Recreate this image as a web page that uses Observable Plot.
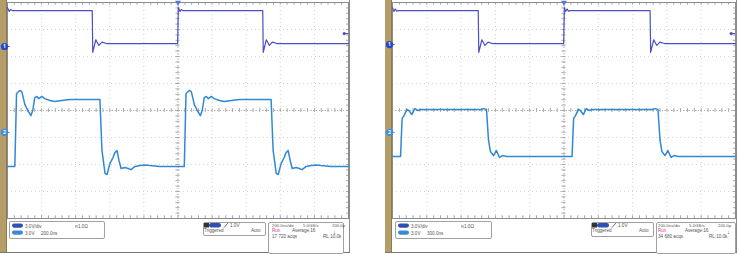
<!DOCTYPE html>
<html><head><meta charset="utf-8">
<script src="https://cdn.jsdelivr.net/npm/d3@7"></script>
<script src="https://cdn.jsdelivr.net/npm/@observablehq/plot@0.6"></script>
<style>
body{margin:0;background:#fff;}
#root{position:relative;width:740px;height:254px;overflow:hidden;background:#fff;font-family:"Liberation Sans",Arial,sans-serif;}
.tan{position:absolute;top:0;width:6px;height:253px;background:#b59d68;border-right:1px solid #8f7b4f;}
.edge{position:absolute;top:0;width:1px;height:253px;background:#8a8a8a;}
.bottom{position:absolute;top:252px;height:1px;background:#777;}
</style></head><body><div id="root"></div>
<script>
// ---- data (time in ns from trigger, value in screen divisions) ----
const gridTimes = [-1000,-800,-600,-400,-200,0,200,400,600,800,1000];
const gridDivs = [-4,-3,-2,-1,0,1,2,3,4];

const ch1Left = [[-1000,3.81],[-990,3.67],[-982,3.74],[-972,3.70],[-964,3.70],[-503,3.70],[-500,2.15],[-482,2.62],[-464,2.41],[-446,2.53],[-420,2.48],[-2,2.48],[2,3.81],[12,3.67],[20,3.74],[28,3.70],[36,3.70],[497,3.70],[500,2.15],[518,2.62],[536,2.41],[554,2.53],[580,2.48],[1000,2.48]];
const ch2Left = [[-1000,-2.07],[-957,-2.07],[-947,0.63],[-928,0.74],[-916,0.70],[-898,0.22],[-881,0.00],[-863,-0.19],[-852,0.00],[-840,0.48],[-828,0.52],[-816,0.44],[-799,0.52],[-781,0.44],[-752,0.37],[-722,0.33],[-681,0.37],[-634,0.41],[-458,0.41],[-446,-1.48],[-428,-2.33],[-416,-2.37],[-399,-1.96],[-381,-1.74],[-370,-1.56],[-358,-1.48],[-346,-1.85],[-334,-2.15],[-311,-2.11],[-293,-2.15],[-276,-2.19],[-252,-2.07],[-223,-2.04],[-194,-2.02],[-164,-2.04],[-106,-2.07],[37,-2.07],[47,0.63],[66,0.74],[78,0.70],[96,0.22],[113,0.00],[131,-0.19],[142,0.00],[154,0.48],[166,0.52],[178,0.44],[195,0.52],[213,0.44],[242,0.37],[272,0.33],[313,0.37],[360,0.41],[546,0.41],[558,-1.48],[576,-2.33],[588,-2.37],[605,-1.96],[623,-1.74],[634,-1.56],[646,-1.48],[658,-1.85],[670,-2.15],[693,-2.11],[711,-2.15],[728,-2.19],[752,-2.07],[781,-2.04],[810,-2.02],[840,-2.04],[898,-2.07],[1000,-2.07]];

const ch1Right = [[-1000,3.81],[-992,3.67],[-984,3.76],[-976,3.68],[-966,3.70],[-500,3.70],[-497,2.15],[-479,2.62],[-461,2.41],[-443,2.53],[-418,2.48],[-2,2.48],[2,3.81],[10,3.67],[18,3.76],[26,3.68],[36,3.70],[502,3.70],[505,2.15],[523,2.62],[541,2.41],[559,2.53],[585,2.48],[1000,2.48]];
const ch2Right = [[-1000,-1.70],[-953,-1.70],[-944,-0.30],[-933,-0.19],[-916,0.04],[-905,0.00],[-887,-0.15],[-870,0.07],[-852,0.00],[-835,0.04],[-485,0.04],[-467,0.07],[-452,0.04],[-440,-1.11],[-429,-1.52],[-411,-1.67],[-394,-1.48],[-376,-1.74],[-359,-1.67],[-335,-1.70],[-40,-1.70],[47,-1.70],[56,-0.30],[67,-0.19],[84,0.04],[95,0.00],[113,-0.15],[130,0.07],[148,0.00],[165,0.04],[515,0.04],[533,0.07],[548,0.04],[560,-1.11],[571,-1.52],[589,-1.67],[606,-1.48],[624,-1.74],[641,-1.67],[665,-1.70],[1000,-1.70]];

const ch1Ground = [2.37, 2.44];
const ch2Ground = [-0.81, -0.81];
const trigLevel = [2.85, 2.85];

const chanLabels = ["3.0V/div", "3.0V/div"];
const termLabels = ["1.0Ω", "1.0Ω"];
const offsetLabels = ["3.0V", "3.0V"];
const posLabels = ["200.0ns", "300.0ns"];
const trigLabels = ["1.0V", "1.0V"];
const timeLabels = ["200.0ns/div", "200.0ns/div"];
const rateLabels = ["5.0GS/s", "5.0GS/s"];
const ptLabels = ["200.0p", "200.0p"];
const acqLabels = ["17 720 acqs", "34 680 acqs"];
const rlLabels = ["RL:10.0k", "RL:10.0k"];

const C1 = "#4a4fc6", C2 = "#3189d4", PILL1 = "#2d4fb6", PILL2 = "#3a8ad6";

const root = document.getElementById("root");
const panels = [
  {left:0, w:352, mr:4, ch1:ch1Left, ch2:ch2Left, edge:349,
   boxA:[9,221,95,17], boxB:[203,222,62,13], boxC:[268,222,75,31], ax:0, bx:0, cx:0, rx:303, avx:292, arx:333},
  {left:385, w:355, mr:5, ch1:ch1Right, ch2:ch2Right, edge:351,
   boxA:[10,221,96,17], boxB:[206,222,62,14], boxC:[271,222,79,31], ax:1, bx:3, cx:1, rx:304, avx:300, arx:342}
];

const minorT = d3.range(-1000, 1000.1, 40);
const minorV = d3.range(-4, 4.01, 0.2);

panels.forEach((p, i) => {
  const tan = document.createElement("div");
  tan.className = "tan"; tan.style.left = p.left + "px"; root.appendChild(tan);
  const edge = document.createElement("div");
  edge.className = "edge"; edge.style.left = (p.left + p.edge) + "px"; root.appendChild(edge);
  const bot = document.createElement("div");
  bot.className = "bottom"; bot.style.left = p.left + "px"; bot.style.width = (p.edge + 1) + "px"; root.appendChild(bot);

  const chart = Plot.plot({
    width: p.w, height: 219, marginLeft: 7, marginRight: p.mr, marginTop: 2, marginBottom: 1,
    x: {domain: [-1000, 1000], axis: null},
    y: {domain: [-4, 4], axis: null},
    style: {background: "transparent", overflow: "visible"},
    marks: [
      Plot.ruleX(gridTimes, {stroke: "#d2d2d2", strokeDasharray: "1,3"}),
      Plot.ruleY(gridDivs, {stroke: "#d2d2d2", strokeDasharray: "1,3"}),
      Plot.ruleX([0], {stroke: "#b0b0b0", strokeDasharray: "1,2"}),
      Plot.ruleY([0], {stroke: "#b0b0b0", strokeDasharray: "1,2"}),
      Plot.ruleX(minorT, {y1: -0.07, y2: 0.07, stroke: "#a8a8a8"}),
      Plot.ruleY(minorV, {x1: -12, x2: 12, stroke: "#a8a8a8"}),
      Plot.ruleX(minorT, {y1: 4, y2: 3.9, stroke: "#8ea8d0"}),
      Plot.ruleX(minorT, {y1: -4, y2: -3.9, stroke: "#8ea8d0"}),
      Plot.ruleY(minorV, {x1: 1000, x2: 988, stroke: "#a8a8a8"}),
      Plot.frame({stroke: "#8c8c8c"}),
      Plot.line(p.ch2, {x: d => d[0], y: d => d[1], stroke: C2, strokeWidth: 1.5}),
      Plot.line(p.ch1, {x: d => d[0], y: d => d[1], stroke: C1, strokeWidth: 1.2}),
      Plot.dot([0], {x: d => d, y: 4, symbol: "triangle", r: 2.2, fill: "#5a78cf", rotate: 180}),
      Plot.ruleY([trigLevel[i]], {x1: 975, x2: 1000, stroke: C1, strokeWidth: 1}),
      Plot.dot([trigLevel[i]], {x: 975, y: d => d, r: 1.6, fill: C1}),
      Plot.ruleY([ch1Ground[i]], {x1: -1000, x2: -985, stroke: PILL1, strokeWidth: 1}),
      Plot.dot([ch1Ground[i]], {x: -1000, y: d => d, dx: -3, r: 3.6, fill: "#2347d0"}),
      Plot.text([ch1Ground[i]], {x: -1000, y: d => d, dx: -3, text: () => "1", fill: "white", fontSize: 5, fontWeight: "bold"}),
      Plot.ruleY([ch2Ground[i]], {x1: -1000, x2: -985, stroke: PILL2, strokeWidth: 1}),
      Plot.dot([ch2Ground[i]], {x: -1000, y: d => d, dx: -3, r: 3.6, fill: "#3a8fe0"}),
      Plot.text([ch2Ground[i]], {x: -1000, y: d => d, dx: -3, text: () => "2", fill: "white", fontSize: 5, fontWeight: "bold"})
    ]
  });
  chart.style.position = "absolute";
  chart.style.left = p.left + "px";
  chart.style.top = "0px";
  chart.style.zIndex = 2;
  root.appendChild(chart);

  const T = 219;
  const svg = d3.create("svg").attr("width", p.w).attr("height", 35)
    .style("position", "absolute").style("left", p.left + "px").style("top", T + "px")
    .style("font-family", "'Liberation Sans', Arial, sans-serif");
  const box = (b) => svg.append("rect").attr("x", b[0] + 0.5).attr("y", b[1] - T + 0.5)
    .attr("width", b[2]).attr("height", b[3]).attr("rx", 1.5)
    .attr("fill", "white").attr("stroke", "#a0a0a0");
  const pill = (x, y, w, h, c) => svg.append("rect").attr("x", x).attr("y", y - T)
    .attr("width", w).attr("height", h).attr("rx", h / 2).attr("fill", c);
  const txt = (x, y, s, c = "#555", size = 4.6, weight = "normal") => svg.append("text")
    .attr("x", x).attr("y", y - T).attr("font-size", size).attr("fill", c)
    .attr("font-weight", weight).text(s);

  box(p.boxA); box(p.boxB); box(p.boxC);
  const a = p.ax, b = p.bx, c = p.cx;
  pill(12 + a, 223.5, 11, 4.2, PILL1);
  txt(25 + a, 227.6, chanLabels[i]);
  txt(75 + a, 227.6, "R", "#555", 4);
  txt(78 + a, 227.6, termLabels[i]);
  pill(12 + a, 230.5, 11, 4.2, PILL2);
  txt(25 + a, 234.6, offsetLabels[i]);
  txt(41 + a, 234.6, posLabels[i]);
  svg.append("rect").attr("x", 204 + b).attr("y", 223 - T).attr("width", 5).attr("height", 4.5).attr("fill", "#333");
  pill(209 + b, 223, 12, 4.5, PILL1);
  svg.append("line").attr("x1", 224 + b).attr("y1", 227.5 - T).attr("x2", 228 + b).attr("y2", 223 - T)
    .attr("stroke", "#333").attr("stroke-width", 0.7);
  txt(230 + b, 227, trigLabels[i]);
  txt(204 + b, 232, "Triggered");
  txt(251 + b, 232, "Auto");
  txt(272 + c, 227, timeLabels[i], "#555", 4.3);
  txt(p.rx, 227, rateLabels[i], "#555", 4.3);
  txt(332 + c, 227, ptLabels[i], "#555", 4.3);
  txt(272 + c, 232, "Run", "#e0409c");
  txt(p.avx, 232, "Average:16");
  txt(p.arx, 233.5, "↓", "#1d3aa8", 6, "bold");
  txt(272 + c, 237.5, acqLabels[i]);
  txt(323 + c, 237.5, rlLabels[i]);
  root.appendChild(svg.node());
});
</script>
</body></html>
